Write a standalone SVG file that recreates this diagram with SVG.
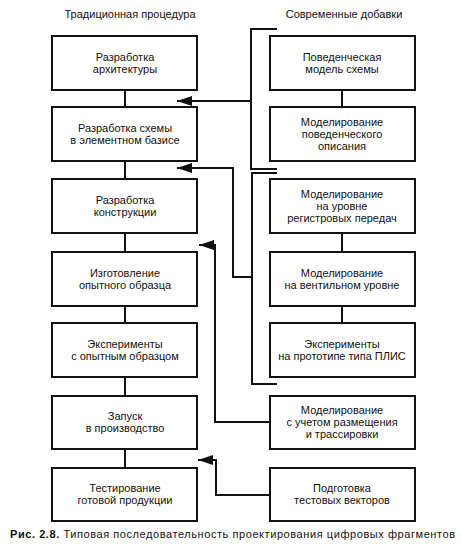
<svg xmlns="http://www.w3.org/2000/svg" width="462" height="550" viewBox="0 0 462 550">
<defs>
<style>
text{font-family:"Liberation Sans",Arial,sans-serif;font-size:11px;fill:#111;text-anchor:middle}
.box rect{fill:#fff;stroke:#111;stroke-width:2}
.conn path,.conn line{fill:none;stroke:#111;stroke-width:2}
.cap{text-anchor:start;font-size:11px}
</style>
<marker id="ah" markerWidth="16" markerHeight="10" refX="15" refY="5" orient="auto" markerUnits="userSpaceOnUse">
<path d="M0,0 L15,5 L0,10 Z" fill="#111"/>
</marker>
</defs>
<rect width="462" height="550" fill="#fff"/>
<text x="130" y="18">Традиционная процедура</text>
<text x="344" y="18">Современные добавки</text>
<g class="conn">
<line x1="125" y1="90" x2="125" y2="107"/>
<line x1="125" y1="161" x2="125" y2="179"/>
<line x1="125" y1="233" x2="125" y2="252"/>
<line x1="125" y1="306" x2="125" y2="323"/>
<line x1="125" y1="377" x2="125" y2="396"/>
<line x1="125" y1="449" x2="125" y2="468"/>
<line x1="342" y1="90" x2="342" y2="107"/>
<line x1="342" y1="233" x2="342" y2="252"/>
<line x1="342" y1="306" x2="342" y2="323"/>
<path d="M277,29 H251 V169 H277"/>
<path d="M277,173 H252 V384 H277"/>
<path d="M251,101 H177" marker-end="url(#ah)"/>
<path d="M252,277 H233 V168 H177" marker-end="url(#ah)"/>
<path d="M270,422 H215 V245 H199" marker-end="url(#ah)"/>
<path d="M270,495 H216 V460 H198" marker-end="url(#ah)"/>
</g>
<g id="l1" class="box"><rect x="52" y="36" width="145" height="54"/><text x="125" y="61">Разработка</text><text x="125" y="73">архитектуры</text></g>
<g id="l2" class="box"><rect x="52" y="107" width="145" height="54"/><text x="125" y="132">Разработка схемы</text><text x="125" y="144">в элементном базисе</text></g>
<g id="l3" class="box"><rect x="52" y="179" width="145" height="54"/><text x="125" y="204">Разработка</text><text x="125" y="216">конструкции</text></g>
<g id="l4" class="box"><rect x="52" y="252" width="145" height="54"/><text x="125" y="277">Изготовление</text><text x="125" y="289">опытного образца</text></g>
<g id="l5" class="box"><rect x="52" y="323" width="145" height="54"/><text x="125" y="348">Эксперименты</text><text x="125" y="360">с опытным образцом</text></g>
<g id="l6" class="box"><rect x="52" y="396" width="145" height="53"/><text x="125" y="420">Запуск</text><text x="125" y="432">в производство</text></g>
<g id="l7" class="box"><rect x="52" y="468" width="145" height="53"/><text x="125" y="492">Тестирование</text><text x="125" y="504">готовой продукции</text></g>
<g id="r1" class="box"><rect x="270" y="36" width="145" height="54"/><text x="342" y="61">Поведенческая</text><text x="342" y="73">модель схемы</text></g>
<g id="r2" class="box"><rect x="270" y="107" width="145" height="54"/><text x="342" y="126">Моделирование</text><text x="342" y="138">поведенческого</text><text x="342" y="150">описания</text></g>
<g id="r3" class="box"><rect x="270" y="179" width="145" height="54"/><text x="342" y="198">Моделирование</text><text x="342" y="210">на уровне</text><text x="342" y="222">регистровых передач</text></g>
<g id="r4" class="box"><rect x="270" y="252" width="145" height="54"/><text x="342" y="277">Моделирование</text><text x="342" y="289">на вентильном уровне</text></g>
<g id="r5" class="box"><rect x="270" y="323" width="145" height="54"/><text x="342" y="348">Эксперименты</text><text x="342" y="360">на прототипе типа ПЛИС</text></g>
<g id="r6" class="box"><rect x="270" y="396" width="145" height="53"/><text x="342" y="414">Моделирование</text><text x="342" y="426">с учетом размещения</text><text x="342" y="438">и трассировки</text></g>
<g id="r7" class="box"><rect x="270" y="468" width="145" height="53"/><text x="342" y="492">Подготовка</text><text x="342" y="504">тестовых векторов</text></g>
<text class="cap" x="10" y="538" textLength="445" lengthAdjust="spacing"><tspan font-weight="bold">Рис. 2.8.</tspan> Типовая последовательность проектирования цифровых фрагментов</text>
</svg>
